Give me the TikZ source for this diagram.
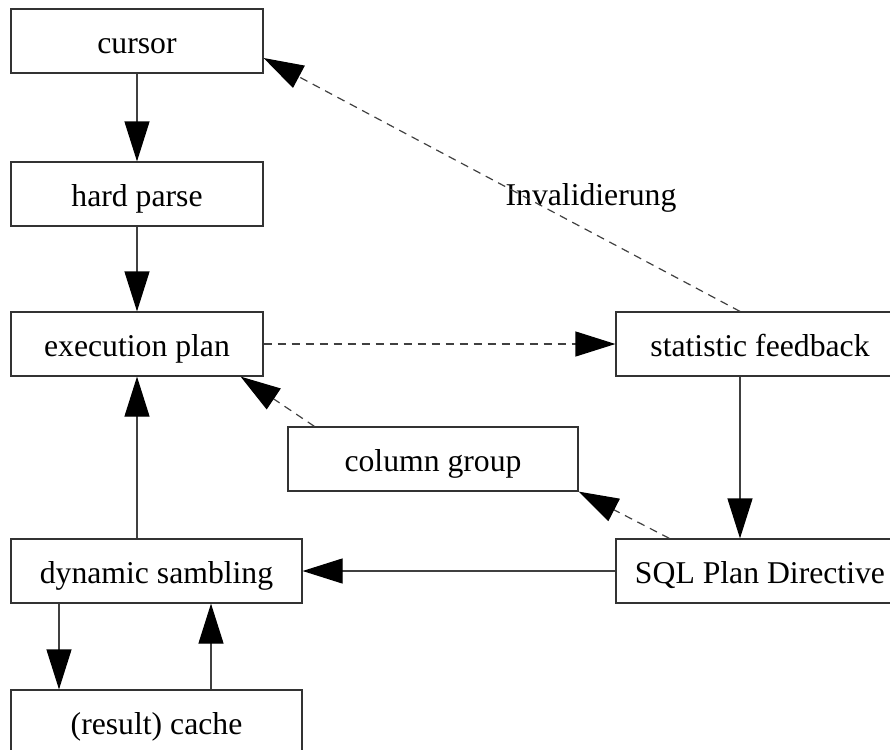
\documentclass[tikz,border=0pt]{standalone}
\usepackage{fontspec}
\setmainfont{Liberation Serif}
\usetikzlibrary{arrows.meta,calc}
\begin{document}
\begin{tikzpicture}[x=0.5pt,y=-0.5pt,
  txt/.style={font=\fontsize{15.85}{19}\selectfont, text height=12.5pt, text depth=0pt, inner sep=0pt},
  box/.style={txt, draw=black!80, line width=0.6pt, fill=white, minimum height=32pt},
  conn/.style={draw=black!75, line width=0.6pt, -{Triangle[length=20pt,width=12.5pt,black]}},
  dsh/.style={conn, dash pattern=on 4pt off 3pt}]
\useasboundingbox (0,0) rectangle (890,750);
\clip (0,0) rectangle (890,750);
% boxes
\node[box, minimum width=126pt] (cursor) at (137,41) {cursor};
\node[box, minimum width=126pt] (hard) at (137,194) {hard parse};
\node[box, minimum width=126pt] (exec) at (137,344) {execution plan};
\node[box, minimum width=144pt] (stat) at (760,344) {statistic feedback};
\node[box, minimum width=145pt] (col) at (433,459) {column group};
\node[box, minimum width=145.5pt] (dyn) at (156.5,571) {dynamic sambling};
\node[box, minimum width=144pt] (sql) at (760,571) {SQL Plan Directive};
\node[box, minimum width=145.5pt] (cache) at (156.5,722) {(result) cache};
% label
\node[txt] (inv) at (591,192.5) {Invalidierung};
% helper coordinates
\coordinate (dl) at ($(dyn.south)+(-97.5,0)$);
\coordinate (dr) at ($(dyn.south)+(54.5,0)$);
% solid connectors
\draw[conn] (cursor.south) -- (hard.north);
\draw[conn] (hard.south) -- (exec.north);
\draw[conn] (dyn.north -| exec.south) -- (exec.south);
\draw[conn] (dl) -- (dl |- cache.north);
\draw[conn] (dr |- cache.north) -- (dr);
\draw[conn] ($(stat.south)+(-20,0)$) -- ($(sql.north)+(-20,0)$);
\draw[conn] (sql.west) -- (dyn.east);
% dashed connectors
\draw[dsh] (exec.east) -- (stat.west);
\draw[dsh] ($(sql.north west)+(54,0)$) -- (col.south east);
\draw[dsh] ($(col.north west)+(27,0)$) -- ($(exec.south east)+(-23,0)$);
\draw[dsh] ($(stat.north)+(-20,0)$) -- ($(cursor.east)+(0,17)$);
\end{tikzpicture}
\end{document}
